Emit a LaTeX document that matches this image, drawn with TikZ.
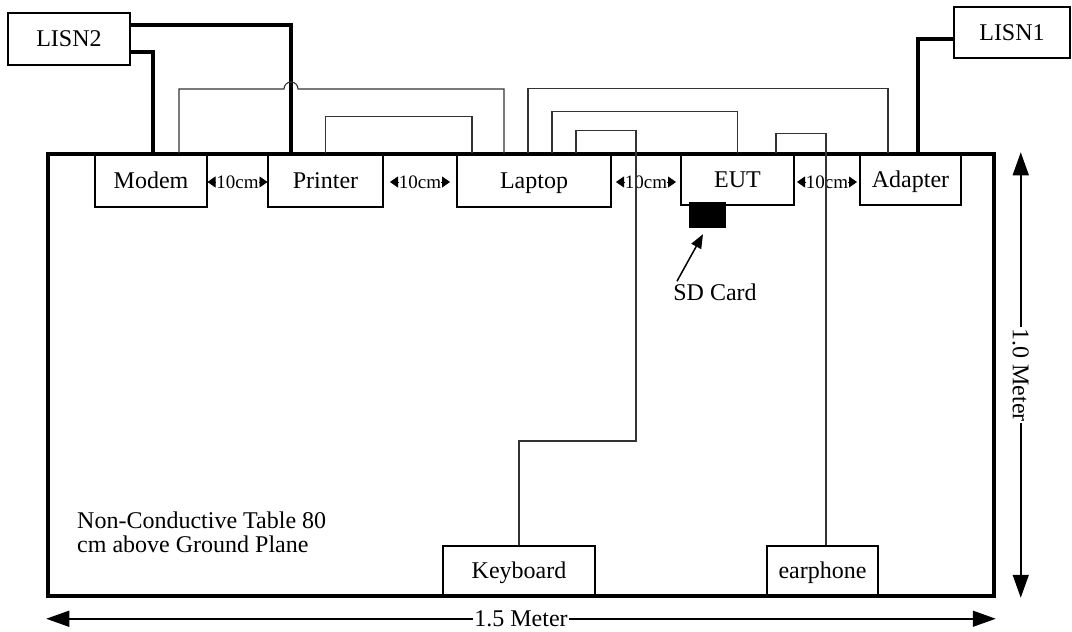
\documentclass[tikz,border=0pt]{standalone}
\usepackage{fontspec}
\setmainfont{Liberation Serif}
\usetikzlibrary{arrows.meta,calc}
\begin{document}
\begin{tikzpicture}[x=1pt,y=-1pt,
  box/.style={draw,line width=1.5pt,inner sep=0pt,text height=18pt,text depth=3pt,font=\fontsize{24}{26}\selectfont},
  power/.style={line width=3.5pt},
  cable/.style={line width=1.1pt,black!80},
  gap/.style={line width=0.8pt,{Triangle[length=8pt,width=11pt]}-{Triangle[length=8pt,width=11pt]}},
  gaplabel/.style={fill=white,inner sep=0pt,font=\fontsize{19}{20}\selectfont},
  dim/.style={line width=1.5pt,{Triangle[length=23pt,width=16pt]}-{Triangle[length=23pt,width=16pt]}},
  dimlabel/.style={fill=white,inner sep=1pt,font=\fontsize{24}{26}\selectfont}]
\useasboundingbox (0,0) rectangle (1072,632);
% table
\node[draw,line width=3.5pt,minimum width=946pt,minimum height=442pt,inner sep=0pt] (table) at (521,375) {};
% boxes
\node[box,fill=white,minimum width=122pt,minimum height=52pt] (lisn2) at (69,39) {LISN2};
\node[box,fill=white,minimum width=116pt,minimum height=51pt] (lisn1) at (1012,32.5) {LISN1};
\node[box,minimum width=112pt,minimum height=53pt] (modem) at (151,180.5) {Modem};
\node[box,minimum width=115pt,minimum height=53pt] (printer) at (325.5,180.5) {Printer};
\node[box,minimum width=154pt,minimum height=53pt] (laptop) at (534,180.5) {Laptop};
\node[box,minimum width=113pt,minimum height=51pt] (eut) at (737.5,179.5) {EUT};
\node[box,minimum width=101pt,minimum height=51pt] (adapter) at (910.5,179.5) {Adapter};
\node[box,minimum width=152pt,minimum height=50pt] (keyboard) at (519,571) {Keyboard};
\node[box,minimum width=111pt,minimum height=50pt] (earphone) at (822.5,571) {earphone};
\node[draw,fill=black,minimum width=36pt,minimum height=25pt,inner sep=0pt] (sd) at (707,214.5) {};
\node[anchor=base,inner sep=2pt,font=\fontsize{24}{26}\selectfont] (sdlabel) at (715,300) {SD Card};
\draw[line width=1.5pt,-{Triangle[length=14pt,width=11pt]}] ([xshift=-38pt]sdlabel.north) -- ([shift={(-4pt,-7pt)}]sd.south);
% table text
\node[anchor=north west,align=left,inner sep=0pt,font=\fontsize{24}{24}\selectfont] (tabletext) at (77,512) {Non-Conductive Table 80\\cm above Ground Plane};
% power cables
\draw[power] ([yshift=14pt]lisn2.east) -| ([xshift=-34.5pt]printer.north);
\draw[power] ([yshift=-13pt]lisn2.east) -| ([xshift=2pt]modem.north);
\draw[power] ([yshift=-6.5pt]lisn1.west) -| ([xshift=7.5pt]adapter.north);
% 10cm gaps
\coordinate (g1) at ($([yshift=-1.5pt]modem.east)!0.5!([yshift=-1.5pt]printer.west)$);
\coordinate (g2) at ($([yshift=-1.5pt]printer.east)!0.5!([yshift=-1.5pt]laptop.west)$);
\coordinate (g3) at ($([yshift=-1.5pt]laptop.east)!0.5!([yshift=-2.5pt]eut.west)$);
\coordinate (g4) at ($([yshift=-2.5pt]eut.east)!0.5!([yshift=-2.5pt]adapter.west)$);
\foreach \g in {g1,g2,g3,g4}{
  \draw[gap] ([xshift=-30pt]\g) -- ([xshift=30pt]\g) node[midway,gaplabel] {10cm};
}
% signal cables
\draw[cable] ([xshift=28pt]modem.north) |- (284,89) arc[start angle=180,end angle=0,radius=7pt] -| ([xshift=-30pt]laptop.north);
\draw[cable] (printer.north) -- ++(0,-37) -| ([xshift=-62pt]laptop.north);
\draw[cable] ([xshift=-6pt]laptop.north) -- ++(0,-65) -| ([xshift=-22.5pt]adapter.north);
\draw[cable] ([xshift=18pt]laptop.north) -- ++(0,-42) -| (eut.north);
\draw[cable] ([xshift=38.5pt]eut.north) -- ++(0,-20) -| ([xshift=3.5pt]earphone.north);
\draw[cable] ([xshift=42pt]laptop.north) -- ++(0,-23) -| (636,441) -| (keyboard.north);
% dimensions
\draw[dim] ([yshift=-21pt]table.south west) -- ([yshift=-21pt]table.south east) node[midway,dimlabel] {1.5 Meter};
\draw[dim] ([xshift=25pt]table.north east) -- ([xshift=25pt]table.south east) node[midway,dimlabel,rotate=-90] {1.0 Meter};
\end{tikzpicture}
\end{document}
